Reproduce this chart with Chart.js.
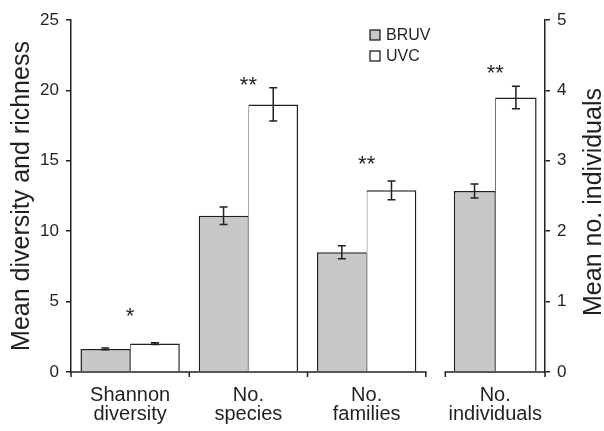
<!DOCTYPE html>
<html>
<head>
<meta charset="utf-8">
<script src="https://cdn.jsdelivr.net/npm/chart.js@4.4.1/dist/chart.umd.min.js"></script>
<style>
html,body{margin:0;padding:0;background:#fff;}
#wrap{width:604px;height:431px;}
</style>
</head>
<body>
<div id="wrap"><canvas id="chart"></canvas></div>
<script>
// categories and where they sit on the (linear) x axis
const categories = [['Shannon','diversity'],['No.','species'],['No.','families'],['No.','individuals']];
const catPos = [0.5, 1.5, 2.5, 3.587];
// left axis: diversity / richness
const bruv = [1.64, 11.1, 8.5];
const bruvErr = [0.06, 0.62, 0.46];
const uvc = [2.02, 19.0, 12.9];
const uvcErr = [0.06, 1.18, 0.66];
// right axis: individuals
const bruvInd = [2.57];
const bruvIndErr = [0.1];
const uvcInd = [3.9];
const uvcIndErr = [0.16];
// significance marks (height in axis units, last one on the right axis)
const sigMarks = ['*','**','**','**'];
const sigHeights = [4.37, 20.77, 15.16, 4.33];
const sigAxis = ['y','y','y','y2'];
// broken category axis
const sections = [[0,3],[3.165,4.008]];
const sectionTicks = [0,1,2,3,3.165,4.008];
const rightTitle = 'Mean no. individuals';

const INK = '#231f20', GREY = '#c7c8ca';
const FONT = "'Liberation Sans', Arial, Helvetica, sans-serif";

const pts = (xs, ys) => ys.map((v,i)=>({x: xs[i], y: v}));

const extras = {
    id: 'extras',
    afterDatasetsDraw(chart){
        const ctx = chart.ctx, x = chart.scales.x, area = chart.chartArea, bottom = area.bottom;
        ctx.save();
        ctx.strokeStyle = INK;
        ctx.lineWidth = 1.5;
        sections.forEach(([a,b])=>{
            ctx.beginPath();
            ctx.moveTo(x.getPixelForValue(a)-0.75, bottom);
            ctx.lineTo(x.getPixelForValue(b)+0.75, bottom);
            ctx.stroke();
        });
        sectionTicks.forEach(v=>{
            const px = x.getPixelForValue(v);
            ctx.beginPath(); ctx.moveTo(px, bottom); ctx.lineTo(px, bottom+5); ctx.stroke();
        });
        // error bars
        chart.data.datasets.forEach((ds,i)=>{
            const meta = chart.getDatasetMeta(i), sc = chart.scales[ds.yAxisID];
            meta.data.forEach((bar,j)=>{
                const v = ds.data[j].y, e = ds.errors[j];
                const t = sc.getPixelForValue(v+e), b = sc.getPixelForValue(v-e);
                ctx.beginPath();
                ctx.moveTo(bar.x, t); ctx.lineTo(bar.x, b);
                ctx.moveTo(bar.x-4, t); ctx.lineTo(bar.x+4, t);
                ctx.moveTo(bar.x-4, b); ctx.lineTo(bar.x+4, b);
                ctx.stroke();
            });
        });
        // asterisks
        ctx.fillStyle = INK;
        ctx.font = `22px ${FONT}`;
        ctx.textAlign = 'center';
        ctx.textBaseline = 'alphabetic';
        sigMarks.forEach((m,i)=>{
            const py = chart.scales[sigAxis[i]].getPixelForValue(sigHeights[i]);
            ctx.fillText(m, x.getPixelForValue(catPos[i]), py+12.8);
        });
        // legend
        ctx.font = `16px ${FONT}`;
        ctx.textAlign = 'left';
        ctx.lineWidth = 1.3;
        [0,1].forEach(i=>{
            const ds = chart.data.datasets[i], top = 30 + i*21;
            ctx.fillStyle = ds.backgroundColor;
            ctx.fillRect(370, top, 10, 10);
            ctx.strokeRect(370, top, 10, 10);
            ctx.fillStyle = INK;
            ctx.fillText(ds.label, 386, top+9.8);
        });
        // right axis title, read bottom to top like the left one
        ctx.translate(chart.width-10, (area.top+area.bottom)/2+6);
        ctx.rotate(-Math.PI/2);
        ctx.font = `25px ${FONT}`;
        ctx.textAlign = 'center';
        ctx.textBaseline = 'middle';
        ctx.fillText(rightTitle, 0, 0);
        ctx.restore();
    }
};

const side = {top:1.5, left:1.5, right:0.8, bottom:0};
const side2 = {top:1.5, left:0.8, right:1.5, bottom:0};

new Chart(document.getElementById('chart'), {
    type: 'bar',
    data: {
        datasets: [{
            label: 'BRUV', data: pts(catPos, bruv), errors: bruvErr, yAxisID: 'y', stack: 'a',
            backgroundColor: GREY, borderColor: INK, borderWidth: side,
            categoryPercentage: 0.84, barPercentage: 1
        },{
            label: 'UVC', data: pts(catPos, uvc), errors: uvcErr, yAxisID: 'y', stack: 'b',
            backgroundColor: '#ffffff', borderColor: INK, borderWidth: side2,
            categoryPercentage: 0.84, barPercentage: 1
        },{
            label: 'BRUV', data: pts(catPos.slice(3), bruvInd), errors: bruvIndErr, yAxisID: 'y2', stack: 'c',
            backgroundColor: GREY, borderColor: INK, borderWidth: side,
            categoryPercentage: 0.70, barPercentage: 1
        },{
            label: 'UVC', data: pts(catPos.slice(3), uvcInd), errors: uvcIndErr, yAxisID: 'y2', stack: 'd',
            backgroundColor: '#ffffff', borderColor: INK, borderWidth: side2,
            categoryPercentage: 0.70, barPercentage: 1
        }]
    },
    options: {
        responsive: true,
        maintainAspectRatio: false,
        animation: false,
        skipNull: true,
        layout: {padding: {top: 20, left: 0, right: 0, bottom: 0}},
        plugins: {legend: {display: false}, tooltip: {enabled: false}},
        scales: {
            x: {
                type: 'linear', min: 0, max: 4.008, offset: false,
                afterBuildTicks: (scale)=>{ scale.ticks = catPos.map(v=>({value: v})); },
                afterFit: (scale)=>{ scale.height = 59; },
                grid: {display: false, drawTicks: false, offset: false},
                border: {display: false},
                ticks: {
                    autoSkip: false, maxRotation: 0, padding: 14,
                    color: INK, font: {family: FONT, size: 20, lineHeight: 0.95},
                    callback: (v, i)=>categories[i]
                }
            },
            y: {
                position: 'left', min: 0, max: 25,
                afterFit: (scale)=>{ scale.width = 71; },
                grid: {drawOnChartArea: false, tickLength: 5, color: INK, lineWidth: 1.5},
                border: {color: INK, width: 1.5},
                ticks: {stepSize: 5, padding: 7, color: INK, font: {family: FONT, size: 17}},
                title: {display: true, text: 'Mean diversity and richness', color: INK,
                    font: {family: FONT, size: 25, lineHeight: 1.2}, padding: {top: 7, bottom: 0}}
            },
            y2: {
                position: 'right', min: 0, max: 5,
                afterFit: (scale)=>{ scale.width = 59; },
                grid: {drawOnChartArea: false, tickLength: 5, color: INK, lineWidth: 1.5},
                border: {color: INK, width: 1.5},
                ticks: {stepSize: 1, padding: 7, color: INK, font: {family: FONT, size: 17}}
            }
        }
    },
    plugins: [extras]
});
</script>
</body>
</html>
